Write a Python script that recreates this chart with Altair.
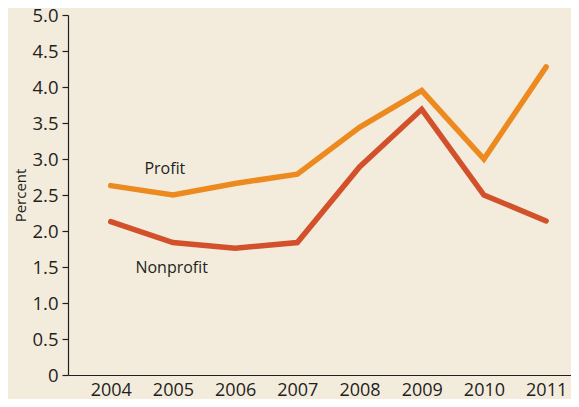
import altair as alt
import pandas as pd

years = [2004, 2005, 2006, 2007, 2008, 2009, 2010, 2011]
profit = [2.63, 2.50, 2.66, 2.79, 3.44, 3.95, 3.00, 4.28]
nonprofit = [2.13, 1.84, 1.76, 1.84, 2.89, 3.69, 2.50, 2.14]
series_names = ["Profit", "Nonprofit"]
series_colors = ["#ec8a1f", "#d2512b"]
label_text = ["Profit", "Nonprofit"]
label_year = [2004.87, 2004.98]
label_value = [2.86, 1.49]
y_ticks = [0, 0.5, 1.0, 1.5, 2.0, 2.5, 3.0, 3.5, 4.0, 4.5, 5.0]

rows = []
for name, vals in zip(series_names, [profit, nonprofit]):
    for yr, v in zip(years, vals):
        rows.append({"year": yr, "value": v, "series": name})
df = pd.DataFrame(rows)
labels = pd.DataFrame({"text": label_text, "year": label_year, "value": label_value})

W, H = 503, 360
FONT = "Open Sans"
TXT = "#231f20"

x_scale = alt.Scale(domain=[2003.313, 2011.40], nice=False, zero=False)
y_scale = alt.Scale(domain=[0, 5], nice=False)

x_axis = alt.Axis(values=years, format="d", title=None, ticks=False,
                  grid=False, labelPadding=6, labelFontSize=18,
                  labelOverlap=False, labelFlush=False,
                  domainColor=TXT, domainWidth=1.2)
y_axis = alt.Axis(values=y_ticks, title="Percent", grid=False, tickCount=11,
                  labelExpr="datum.value == 0 ? '0' : format(datum.value, '.1f')",
                  tickSize=6, labelPadding=4, labelFontSize=18.5,
                  labelOverlap=False, labelFlush=False,
                  titleFontSize=15, titleFontWeight="normal",
                  titleX=-48, titleY=180, titleAngle=-90,
                  titleAlign="center", titleBaseline="middle",
                  domainColor=TXT, tickColor=TXT, domainWidth=1.2, tickWidth=1.2)

lines = alt.Chart(df).mark_line(strokeWidth=5.5, strokeCap="round").encode(
    x=alt.X("year:Q", scale=x_scale, axis=x_axis),
    y=alt.Y("value:Q", scale=y_scale, axis=y_axis),
    color=alt.Color("series:N", scale=alt.Scale(domain=series_names, range=series_colors),
                    legend=None),
    detail="series:N",
)

text = alt.Chart(labels).mark_text(fontSize=16, font=FONT, color=TXT, align="center",
                                   baseline="middle").encode(
    x=alt.X("year:Q", scale=x_scale, axis=x_axis),
    y=alt.Y("value:Q", scale=y_scale, axis=y_axis),
    text="text:N",
)

chart = alt.layer(lines, text).properties(
    width=W, height=H,
    padding={"left": 60, "top": 7, "right": 0, "bottom": 24},
    autosize=alt.AutoSizeParams(type="none"),
    background="#f3ecdd",
).configure_view(stroke=None).configure_axis(
    labelFont=FONT, titleFont=FONT, labelColor=TXT, titleColor=TXT
)

chart.save("out.html", embed_options={"renderer": "svg", "actions": False})
